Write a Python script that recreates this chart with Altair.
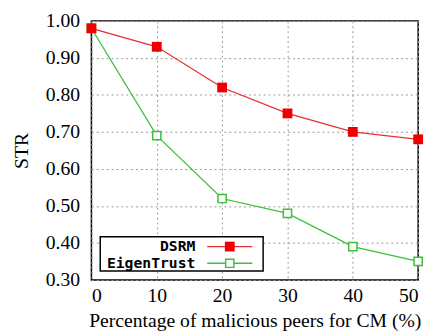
import altair as alt
import pandas as pd

x_vals = [0, 10, 20, 30, 40, 50]
dsrm = [0.98, 0.93, 0.82, 0.75, 0.70, 0.68]
eigen = [0.98, 0.69, 0.52, 0.48, 0.39, 0.35]
series_names = ["DSRM", "EigenTrust"]
y_ticks = [0.3, 0.4, 0.5, 0.6, 0.7, 0.8, 0.9, 1.0]

df = pd.DataFrame(
    {"x": x_vals * 2, "y": dsrm + eigen, "s": [series_names[0]] * 6 + [series_names[1]] * 6}
)

RED = "#e8302e"
GREEN = "#3cbf3c"

xs = alt.Scale(domain=[0, 50], nice=False, zero=False)
ys = alt.Scale(domain=[0.3, 1.0], nice=False, zero=False)

x_enc = alt.X("x:Q", scale=xs, axis=alt.Axis(values=x_vals, title="Percentage of malicious peers for CM (%)",
                                             format="d", labelPadding=6, titlePadding=5, labelOverlap=False,
                                             gridDash=[2, 3], gridColor="#999999", tickSize=0))
y_enc = alt.Y("y:Q", scale=ys, axis=alt.Axis(values=y_ticks, title="STR", format=".2f",
                                             labelPadding=12, titlePadding=14, labelOverlap=False,
                                             gridDash=[2, 3], gridColor="#999999", tickSize=0))

d_d = df[df.s == "DSRM"]
d_e = df[df.s == "EigenTrust"]

line_e = alt.Chart(d_e).mark_line(color=GREEN, strokeWidth=1.3).encode(x=x_enc, y=y_enc)
pts_e = alt.Chart(d_e).mark_point(shape="square", size=70, color=GREEN, fill="white", filled=False,
                                  strokeWidth=1.5, opacity=1).encode(x=x_enc, y=y_enc)
line_d = alt.Chart(d_d).mark_line(color=RED, strokeWidth=1.3).encode(x=x_enc, y=y_enc)
pts_d = alt.Chart(d_d).mark_point(shape="square", size=100, color="#ee0000", filled=True,
                                  opacity=1).encode(x=x_enc, y=y_enc)

# custom legend (labels left of symbols, as in the reference)
one = alt.Data(values=[{"a": 1}])
box = alt.Chart(one).mark_rect(fill="white", stroke="black", strokeWidth=1.5).encode(
    x=alt.value(9), x2=alt.value(175), y=alt.value(220), y2=alt.value(255))
legend_layers = [box]
rows = [(series_names[0], RED, True, 230), (series_names[1], GREEN, False, 247)]
for name, col, filled, yy in rows:
    legend_layers.append(alt.Chart(one).mark_text(
        text=name, align="right", baseline="middle", font="DejaVu Sans Mono", fontWeight="bold",
        fontSize=15, color="black").encode(x=alt.value(106), y=alt.value(yy)))
    legend_layers.append(alt.Chart(one).mark_rule(color=col, strokeWidth=1.3).encode(
        x=alt.value(118), x2=alt.value(164), y=alt.value(yy)))
    if filled:
        legend_layers.append(alt.Chart(one).mark_point(shape="square", size=100, color="#ee0000",
                                                       filled=True, opacity=1).encode(
            x=alt.value(141), y=alt.value(yy)))
    else:
        legend_layers.append(alt.Chart(one).mark_point(shape="square", size=70, color=col, fill="white",
                                                       strokeWidth=1.5, opacity=1).encode(
            x=alt.value(141), y=alt.value(yy)))

chart = alt.layer(line_e, pts_e, line_d, pts_d, *legend_layers).properties(
    width=333, height=264,
    background="white",
    autosize=alt.AutoSizeParams(type="none"),
    padding={"left": 85, "top": 10, "right": 9, "bottom": 54},
).configure_view(stroke="black", strokeWidth=1.5).configure_axis(
    labelFont="Liberation Serif", titleFont="Liberation Serif", labelFontSize=20, titleFontSize=20,
    titleFontWeight="normal", labelColor="black", titleColor="black", domain=False,
)

chart.save("out.html", embed_options={"renderer": "svg", "actions": False})
